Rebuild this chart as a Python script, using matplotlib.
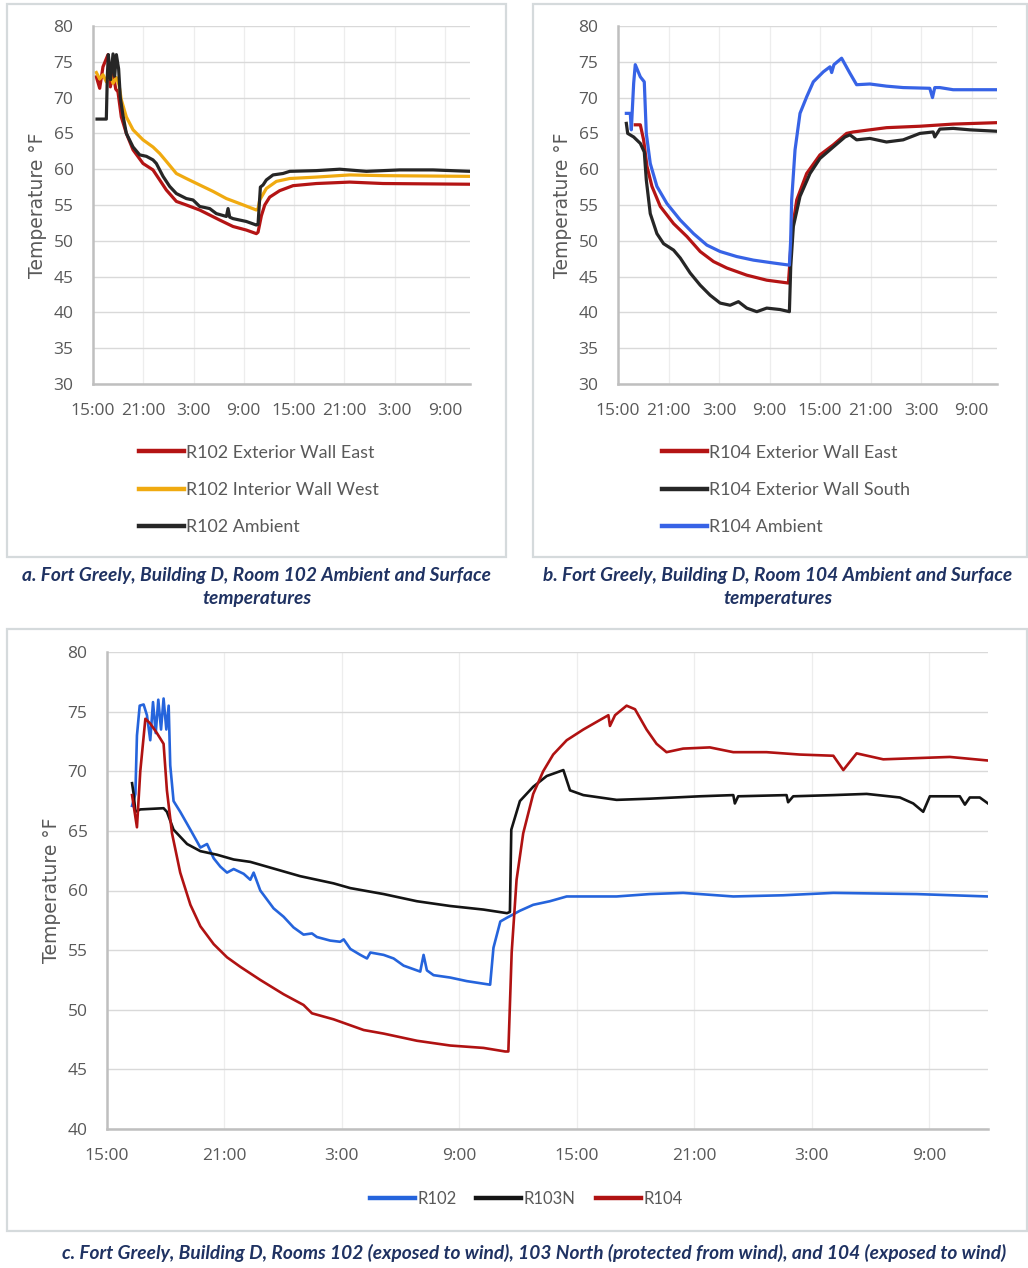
import matplotlib
matplotlib.use("Agg")
import matplotlib.pyplot as plt
from matplotlib.patches import Rectangle

# ---------------- data (hours after 15:00 on day 1, temperature °F) -------------
ticks_h = [0, 6, 12, 18, 24, 30, 36, 42]
tick_labels = ["15:00", "21:00", "3:00", "9:00", "15:00", "21:00", "3:00", "9:00"]

# Panel a: Room 102
a_east_h = [0.4, 0.8, 1.19, 1.79, 2.07, 2.39, 2.71, 2.98, 3.38, 3.98, 4.78, 5.97, 7.16, 7.96, 8.75, 9.95,
            11.14, 12.73, 13.93, 15.12, 16.71, 18.3, 19.5, 19.7, 20.1, 20.5, 21.09, 22.28, 23.88, 26.66,
            30.64, 34.62, 45]
a_east_t = [72.9, 71.3, 74.3, 76.0, 71.5, 73.5, 71.2, 70.8, 67.3, 65.0, 62.7, 60.8, 59.9, 58.5, 57.1, 55.5,
            55.0, 54.3, 53.6, 52.9, 52.0, 51.5, 51.0, 51.2, 53.5, 55.0, 56.1, 57.0, 57.7, 58.0,
            58.2, 58.0, 57.9]
a_west_h = [0.4, 0.8, 1.19, 1.59, 1.99, 2.39, 2.79, 3.1, 3.38, 3.98, 4.78, 5.97, 7.16, 7.96, 8.75, 9.95,
            11.14, 12.73, 14.33, 15.92, 17.51, 19.5, 19.7, 19.9, 20.69, 21.89, 23.48, 26.66, 30.64, 34.62, 45]
a_west_t = [73.5, 72.6, 73.2, 72.2, 73.5, 72.0, 72.8, 71.8, 69.7, 67.3, 65.5, 64.1, 63.1, 62.2, 61.1, 59.4,
            58.7, 57.8, 56.9, 55.9, 55.2, 54.3, 54.5, 55.7, 57.3, 58.3, 58.7, 58.9, 59.2, 59.1, 59.0]
a_amb_h = [0.48, 1.59, 1.71, 1.83, 2.1, 2.39, 2.59, 2.79, 3.06, 3.26, 3.58, 3.98, 4.78, 5.57, 6.37, 7.16,
           7.56, 8.36, 9.15, 9.95, 11.14, 11.94, 12.73, 13.93, 14.72, 15.92, 16.12, 16.32, 16.71, 18.3,
           19.5, 19.7, 19.98, 20.3, 20.69, 21.49, 22.68, 23.48, 26.66, 29.45, 32.63, 36.61, 40.59, 45]
a_amb_t = [67.0, 67.0, 73.0, 76.0, 72.5, 76.1, 73.0, 76.0, 74.0, 70.0, 67.5, 65.0, 63.1, 62.0, 61.8, 61.3,
           60.8, 59.0, 57.6, 56.6, 55.9, 55.7, 54.8, 54.5, 53.8, 53.4, 54.5, 53.3, 53.1, 52.7,
           52.2, 52.3, 57.5, 57.8, 58.5, 59.2, 59.4, 59.7, 59.8, 60.0, 59.7, 59.9, 59.9, 59.7]

# Panel b: Room 104
b_east_h = [2.05, 2.65, 3.04, 3.44, 4.03, 5.02, 6.6, 8.18, 9.76, 11.34, 12.92, 15.29, 17.66, 20.23, 20.35,
            20.62, 21.22, 22.4, 23.98, 25.56, 27.14, 27.93, 29.91, 31.88, 35.84, 39.79, 45]
b_east_t = [66.2, 66.2, 64.1, 60.4, 57.6, 54.8, 52.4, 50.6, 48.5, 47.1, 46.2, 45.2, 44.5, 44.1, 46.0,
            51.0, 55.7, 59.4, 62.0, 63.4, 65.0, 65.2, 65.5, 65.8, 66.0, 66.3, 66.5]
b_south_h = [0.99, 1.15, 1.86, 2.65, 3.12, 3.36, 3.83, 4.62, 5.41, 6.6, 7.39, 8.57, 9.76, 10.94, 12.13,
             13.31, 14.3, 15.29, 16.48, 17.66, 19.24, 20.35, 20.51, 20.82, 21.61, 22.8, 23.98, 25.56,
             26.95, 27.54, 28.33, 29.91, 31.88, 33.86, 35.84, 37.42, 37.61, 38.21, 39.79, 41.76, 45]
b_south_t = [66.4, 65.0, 64.5, 63.6, 62.4, 58.5, 53.8, 51.0, 49.6, 48.7, 47.6, 45.5, 43.8, 42.4, 41.3,
             41.0, 41.5, 40.6, 40.1, 40.6, 40.4, 40.1, 46.4, 52.0, 56.2, 59.4, 61.5, 63.1,
             64.5, 64.8, 64.1, 64.3, 63.8, 64.1, 65.0, 65.2, 64.5, 65.6, 65.7, 65.5, 65.3]
b_amb_h = [0.99, 1.46, 1.58, 1.86, 2.05, 2.65, 3.12, 3.36, 3.83, 4.62, 5.81, 7.39, 8.97, 10.55, 12.13,
           14.1, 16.08, 18.45, 20.35, 20.5, 20.62, 21.02, 21.61, 22.4, 23.19, 24.38, 25.17, 25.37, 25.64,
           26.55, 27.54, 28.33, 29.91, 31.88, 33.86, 37.02, 37.34, 37.61, 38.21, 39.79, 45]
b_amb_t = [67.8, 67.8, 65.5, 72.0, 74.6, 72.9, 72.2, 65.0, 60.8, 57.6, 55.2, 52.9, 51.0, 49.4, 48.5,
           47.8, 47.3, 46.9, 46.6, 50.0, 55.7, 62.7, 67.8, 70.1, 72.2, 73.6, 74.3, 73.5, 74.6,
           75.5, 73.4, 71.8, 71.9, 71.6, 71.4, 71.3, 70.0, 71.4, 71.4, 71.1, 71.1]

# Panel c: rooms 102, 103N, 104 ambient
c_r102_h = [1.28, 1.45, 1.53, 1.67, 1.87, 2.04, 2.21, 2.35, 2.49, 2.62, 2.76, 2.89, 3.03, 3.15, 3.23, 3.4,
            3.74, 4.26, 4.77, 5.11, 5.45, 5.79, 6.13, 6.47, 6.98, 7.32, 7.49, 7.83, 8.51, 9.02, 9.53,
            10.04, 10.47, 10.72, 11.4, 11.91, 12.09, 12.43, 12.94, 13.28, 13.45, 14.13, 14.64, 15.15,
            16.0, 16.17, 16.34, 16.68, 17.53, 18.38, 19.57, 19.74, 20.09, 20.41, 21.09, 21.77, 22.62,
            23.48, 26.03, 27.73, 29.43, 31.99, 34.54, 37.1, 41.35, 45]
c_r102_t = [67.1, 68.1, 73.0, 75.5, 75.6, 74.7, 72.6, 75.8, 73.2, 76.0, 73.5, 76.1, 73.5, 75.5, 70.5, 67.5,
            66.6, 65.1, 63.6, 63.9, 62.7, 62.0, 61.5, 61.8, 61.4, 60.9, 61.5, 60.0, 58.5, 57.8, 56.9,
            56.3, 56.4, 56.1, 55.8, 55.7, 55.9, 55.1, 54.6, 54.3, 54.8, 54.6, 54.3, 53.7,
            53.2, 54.6, 53.3, 52.9, 52.7, 52.4, 52.1, 55.2, 57.4, 57.7, 58.3, 58.8, 59.1,
            59.5, 59.5, 59.7, 59.8, 59.5, 59.6, 59.8, 59.7, 59.5]
c_r103n_h = [1.28, 1.36, 1.45, 1.7, 2.89, 3.06, 3.4, 4.09, 4.77, 5.62, 6.47, 7.32, 8.17, 9.87, 11.57, 12.43,
             14.13, 15.83, 17.53, 19.23, 20.43, 20.58, 20.65, 21.09, 21.77, 22.46, 23.31, 23.65, 24.33,
             26.03, 27.73, 30.28, 31.99, 32.07, 32.24, 34.71, 34.79, 35.05, 37.1, 38.8, 40.5, 41.18,
             41.69, 42.03, 43.56, 43.82, 44.07, 44.58, 45]
c_r103n_t = [69.0, 68.1, 66.6, 66.8, 66.9, 66.6, 65.1, 63.9, 63.3, 63.0, 62.6, 62.4, 62.0, 61.2, 60.6, 60.2,
             59.7, 59.1, 58.7, 58.4, 58.1, 58.2, 65.1, 67.5, 68.7, 69.6, 70.1, 68.4, 68.0,
             67.6, 67.7, 67.9, 68.0, 67.3, 67.9, 68.0, 67.4, 67.9, 68.0, 68.1, 67.8, 67.3,
             66.6, 67.9, 67.9, 67.2, 67.8, 67.8, 67.3]
c_r104_h = [1.28, 1.53, 1.7, 1.96, 2.21, 2.55, 2.89, 3.06, 3.32, 3.74, 4.26, 4.77, 5.45, 6.13, 6.81, 7.83,
            9.02, 10.04, 10.47, 11.57, 13.11, 14.13, 15.83, 17.53, 19.23, 20.34, 20.5, 20.67, 20.92,
            21.26, 21.77, 22.28, 22.79, 23.48, 24.33, 25.18, 25.61, 25.69, 25.95, 26.54, 26.97, 27.56,
            28.07, 28.58, 29.43, 30.79, 31.99, 33.69, 35.39, 37.1, 37.61, 38.29, 39.65, 41.35, 43.05, 45]
c_r104_t = [68.0, 65.3, 70.0, 74.4, 74.0, 73.2, 72.3, 68.4, 64.8, 61.5, 58.8, 57.0, 55.5, 54.4, 53.6, 52.5,
            51.3, 50.4, 49.7, 49.2, 48.3, 48.0, 47.4, 47.0, 46.8, 46.5, 46.5, 54.8, 60.9,
            64.8, 68.1, 70.0, 71.4, 72.6, 73.5, 74.3, 74.7, 73.8, 74.7, 75.5, 75.2, 73.5,
            72.3, 71.6, 71.9, 72.0, 71.6, 71.6, 71.4, 71.3, 70.1, 71.5, 71.0, 71.1, 71.2, 70.9]

# ---------------- styling -------------------------------------------------------
W, H = 1028, 1268
fig = plt.figure(figsize=(W / 100, H / 100), dpi=100)
fig.patch.set_facecolor("white")

TICK_C = "#595959"
GRID_C = "#D9D9D9"
VGRID_C = "#EDEDED"
SPINE_C = "#BFBFBF"
RED = "#B41414"
ORANGE = "#F0AA10"
BLACK = "#262626"
BLUE = "#3763E6"
BLUE_C = "#2564DC"
BLACK_C = "#141414"
RED_C = "#B01212"
CAP_C = "#1F3262"

LEG_FONT = ["Lato", "DejaVu Sans"]


def fig_rect(x0, y0, x1, y1):
    return [x0 / W, 1 - y1 / H, (x1 - x0) / W, (y1 - y0) / H]


def panel_box(x0, y0, x1, y1):
    fig.patches.append(Rectangle((x0 / W, 1 - y1 / H), (x1 - x0) / W, (y1 - y0) / H,
                                 transform=fig.transFigure, fill=False,
                                 edgecolor="#D5DADC", linewidth=1.6))


def style_axes(ax, ymin, ymax):
    ax.set_xlim(0, 45)
    ax.set_ylim(ymin, ymax)
    ax.set_xticks(ticks_h)
    ax.set_xticklabels(tick_labels)
    ax.set_yticks(range(ymin, ymax + 1, 5))
    ax.tick_params(length=0, colors=TICK_C, labelsize=12.5)
    ax.tick_params(axis="y", pad=14)
    ax.tick_params(axis="x", pad=14)
    for s in ["top", "right"]:
        ax.spines[s].set_visible(False)
    for s in ["left", "bottom"]:
        ax.spines[s].set_color(SPINE_C)
        ax.spines[s].set_linewidth(1.8)
    ax.yaxis.grid(True, color=GRID_C, linewidth=1.0)
    ax.xaxis.grid(True, color=VGRID_C, linewidth=0.9)
    ax.set_axisbelow(True)
    ax.set_ylabel("Temperature °F", color=TICK_C, fontsize=13.5, labelpad=5)
    for lab in ax.get_xticklabels() + ax.get_yticklabels():
        lab.set_fontfamily("Open Sans")


# panel boxes
panel_box(7, 4, 506, 557)
panel_box(533, 4, 1027, 557)
panel_box(7, 629, 1027, 1231)

leg_kw = dict(frameon=False, handlelength=2.5, handletextpad=0.15, labelspacing=1.2,
              prop={"family": LEG_FONT, "size": 12.9}, labelcolor=TICK_C, borderpad=0,
              borderaxespad=0, bbox_transform=fig.transFigure, loc="center left")

# ---- panel a
ax_a = fig.add_axes(fig_rect(93, 26, 470, 384))
ax_a.plot(a_east_h, a_east_t, color=RED, lw=2.3, label="R102 Exterior Wall East")
ax_a.plot(a_west_h, a_west_t, color=ORANGE, lw=2.3, label="R102 Interior Wall West")
ax_a.plot(a_amb_h, a_amb_t, color=BLACK, lw=2.3, label="R102 Ambient")
style_axes(ax_a, 30, 80)
leg = ax_a.legend(bbox_to_anchor=(139 / W, 1 - 490 / H), **leg_kw)
for ln in leg.get_lines():
    ln.set_linewidth(3.2)

# ---- panel b
ax_b = fig.add_axes(fig_rect(618, 26, 997, 384))
ax_b.plot(b_east_h, b_east_t, color=RED, lw=2.3, label="R104 Exterior Wall East")
ax_b.plot(b_south_h, b_south_t, color=BLACK, lw=2.3, label="R104 Exterior Wall South")
ax_b.plot(b_amb_h, b_amb_t, color=BLUE, lw=2.3, label="R104 Ambient")
style_axes(ax_b, 30, 80)
leg = ax_b.legend(bbox_to_anchor=(662 / W, 1 - 490 / H), **leg_kw)
for ln in leg.get_lines():
    ln.set_linewidth(3.2)

# ---- panel c
ax_c = fig.add_axes(fig_rect(107, 652, 988, 1129))
ax_c.plot(c_r102_h, c_r102_t, color=BLUE_C, lw=1.9, label="R102")
ax_c.plot(c_r103n_h, c_r103n_t, color=BLACK_C, lw=1.9, label="R103N")
ax_c.plot(c_r104_h, c_r104_t, color=RED_C, lw=1.9, label="R104")
style_axes(ax_c, 40, 80)
leg = ax_c.legend(loc="center", bbox_to_anchor=(526 / W, 1 - 1199 / H), bbox_transform=fig.transFigure,
                  frameon=False, ncol=3, handlelength=2.7, handletextpad=0.15, columnspacing=1.2,
                  prop={"family": LEG_FONT, "size": 12}, labelcolor=TICK_C, borderpad=0, borderaxespad=0)
for ln in leg.get_lines():
    ln.set_linewidth(3.2)

# ---- captions
cap_kw = dict(color=CAP_C, fontsize=13.8, fontweight="bold", fontstyle="italic",
              family=["Lato", "DejaVu Sans"], ha="center", va="center", linespacing=1.45)
fig.text(257 / W, 1 - 587 / H, "a. Fort Greely, Building D, Room 102 Ambient and Surface\ntemperatures", **cap_kw)
fig.text(778 / W, 1 - 587 / H, "b. Fort Greely, Building D, Room 104 Ambient and Surface\ntemperatures", **cap_kw)
fig.text(534 / W, 1 - 1253 / H,
         "c. Fort Greely, Building D, Rooms 102 (exposed to wind), 103 North (protected from wind), and 104 (exposed to wind)",
         **cap_kw)

fig.savefig("out.png", dpi=100, facecolor="white")
